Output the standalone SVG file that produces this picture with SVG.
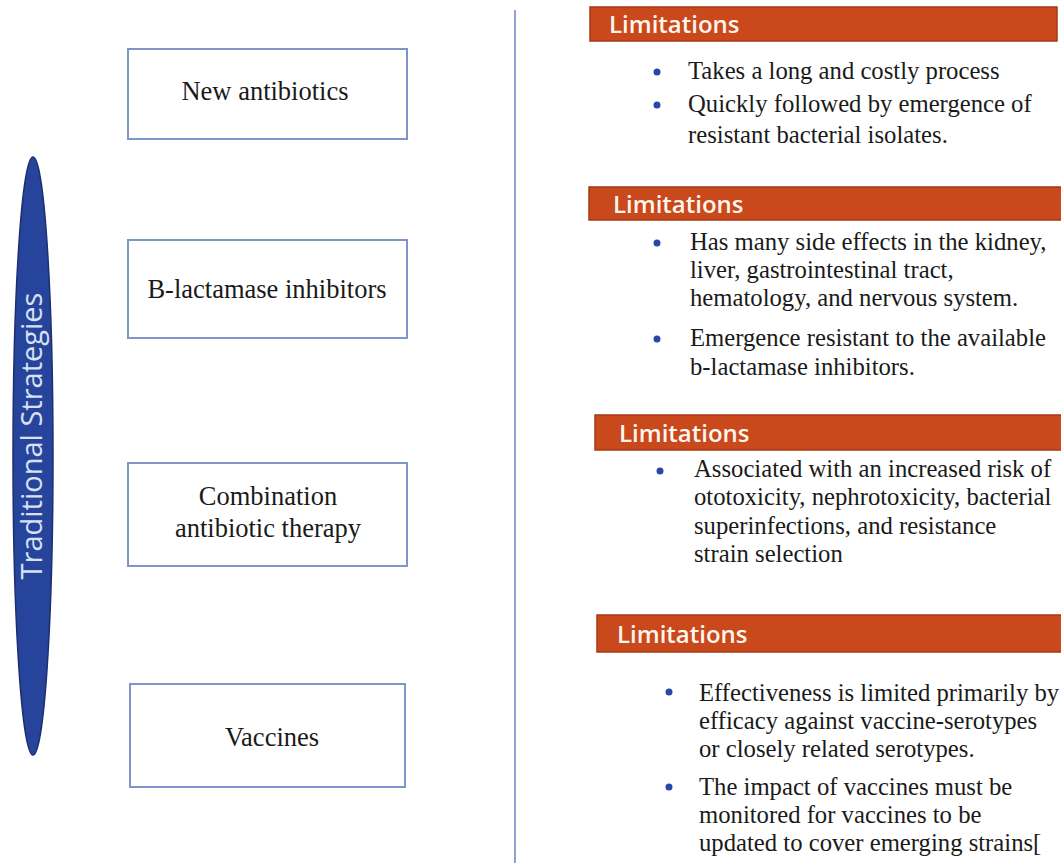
<svg xmlns="http://www.w3.org/2000/svg" width="1061" height="863" viewBox="0 0 1061 863">
<style>
.box{fill:#fff;stroke:#7f95c9;stroke-width:2}
.nt{font-family:"Liberation Serif","Times New Roman",serif;font-size:26.5px;fill:#1a1a1a;text-anchor:middle}
.bar{fill:#c9481c;stroke:#a53a14;stroke-width:1.5}
.bt{font-family:"Open Sans","Noto Sans",sans-serif;font-weight:600;font-size:24px;fill:#fff6ee}
.lt{font-family:"Liberation Serif","Times New Roman",serif;font-size:24.7px;fill:#1a1a1a}
.dot{fill:#2a46a8}
</style>
<rect width="1061" height="863" fill="#fff"/>
<g id="connectors">
<line x1="515" y1="10" x2="515" y2="863" stroke="#8fa3d4" stroke-width="2"/>
</g>
<g id="traditional">
<ellipse cx="33" cy="456" rx="20" ry="299" fill="#26449c" stroke="#1c2f6e" stroke-width="1.5"/>
<text transform="translate(42,436) rotate(-90)" text-anchor="middle" font-family="Open Sans,Noto Sans,sans-serif" font-size="29" fill="#d8e0f2">Traditional Strategies</text>
</g>
<g id="n1"><rect class="box" x="128" y="49" width="279" height="90"/><text class="nt" x="265" y="100">New antibiotics</text></g>
<g id="n2"><rect class="box" x="128" y="240" width="279" height="98"/><text class="nt" x="267" y="298">B-lactamase inhibitors</text></g>
<g id="n3"><rect class="box" x="128" y="463" width="279" height="103"/><text class="nt" x="268" y="505">Combination</text><text class="nt" x="268" y="537">antibiotic therapy</text></g>
<g id="n4"><rect class="box" x="130" y="684" width="275" height="103"/><text class="nt" x="272" y="746">Vaccines</text></g>
<g id="l1">
<rect class="bar" x="590" y="7" width="467" height="34"/><text class="bt" x="609" y="33">Limitations</text>
<circle class="dot" cx="657" cy="72" r="3.5"/><circle class="dot" cx="657" cy="105" r="3.5"/>
<text class="lt" x="688" y="79">Takes a long and costly process</text>
<text class="lt" x="688" y="112">Quickly followed by emergence of</text>
<text class="lt" x="688" y="143">resistant bacterial isolates.</text>
</g>
<g id="l2">
<rect class="bar" x="589" y="187" width="474" height="33"/><text class="bt" x="613" y="213">Limitations</text>
<circle class="dot" cx="657" cy="243" r="3.5"/><circle class="dot" cx="657" cy="339" r="3.5"/>
<text class="lt" x="690" y="250">Has many side effects in the kidney,</text>
<text class="lt" x="690" y="278">liver, gastrointestinal tract,</text>
<text class="lt" x="690" y="306">hematology, and nervous system.</text>
<text class="lt" x="690" y="346">Emergence resistant to the available</text>
<text class="lt" x="690" y="375">b-lactamase inhibitors.</text>
</g>
<g id="l3">
<rect class="bar" x="595" y="415" width="470" height="35"/><text class="bt" x="619" y="442">Limitations</text>
<circle class="dot" cx="660" cy="471" r="3.5"/>
<text class="lt" x="694" y="477">Associated with an increased risk of</text>
<text class="lt" x="694" y="505">ototoxicity, nephrotoxicity, bacterial</text>
<text class="lt" x="694" y="534">superinfections, and resistance</text>
<text class="lt" x="694" y="562">strain selection</text>
</g>
<g id="l4">
<rect class="bar" x="597" y="615" width="468" height="37"/><text class="bt" x="617" y="643">Limitations</text>
<circle class="dot" cx="669" cy="692" r="3.5"/><circle class="dot" cx="669" cy="787" r="3.5"/>
<text class="lt" x="699" y="701">Effectiveness is limited primarily by</text>
<text class="lt" x="699" y="729">efficacy against vaccine-serotypes</text>
<text class="lt" x="699" y="757">or closely related serotypes.</text>
<text class="lt" x="699" y="795">The impact of vaccines must be</text>
<text class="lt" x="699" y="823">monitored for vaccines to be</text>
<text class="lt" x="699" y="851">updated to cover emerging strains[</text>
</g>
</svg>
